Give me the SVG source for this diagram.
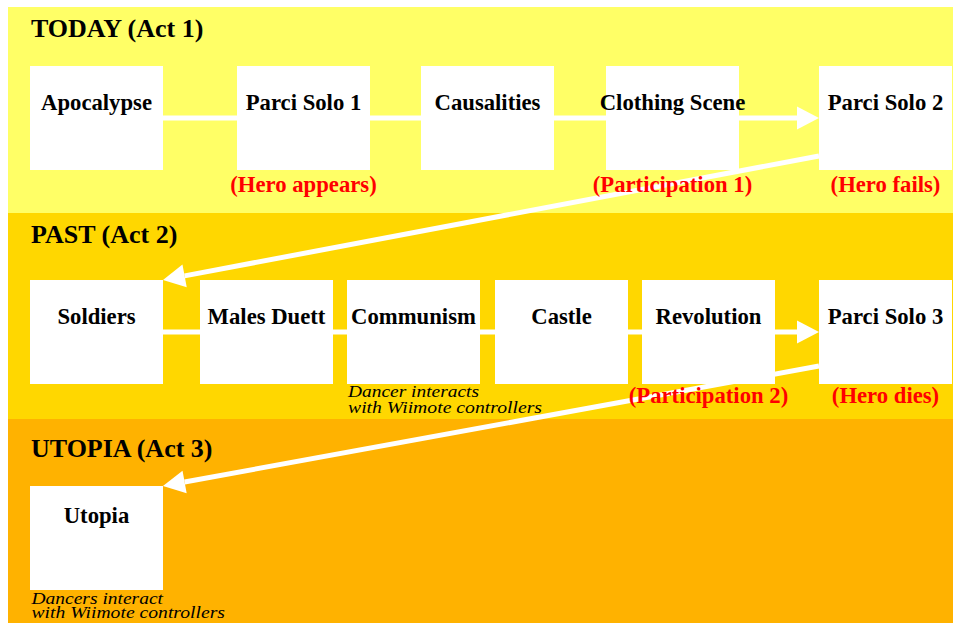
<svg xmlns="http://www.w3.org/2000/svg" width="953" height="623" viewBox="0 0 953 623">
  <style>
    .band-title { font-family: "Liberation Serif", "Times New Roman", serif; font-weight: bold; font-size: 26px; fill: #000; }
    .box { fill: #fff; }
    .box-label { font-family: "Liberation Serif", "Times New Roman", serif; font-weight: bold; font-size: 22.7px; fill: #000; text-anchor: middle; }
    .event { font-family: "Liberation Serif", "Times New Roman", serif; font-weight: bold; font-size: 22.7px; fill: #ff0000; text-anchor: middle; }
    .note { font-family: "Liberation Serif", "Times New Roman", serif; font-style: italic; font-size: 17px; fill: #000; }
    .link { stroke: #fff; stroke-width: 5; fill: none; }
    .flow { stroke: #fff; stroke-width: 5; fill: none; marker-end: url(#head); }
  </style>
  <defs>
    <marker id="head" markerUnits="userSpaceOnUse" markerWidth="22" markerHeight="23" refX="0" refY="11.5" orient="auto" overflow="visible">
      <path d="M0,0 L22,11.5 L0,23 Z" fill="#fff"/>
    </marker>
  </defs>

  <!-- act bands -->
  <g id="bands">
    <rect x="8" y="7" width="945" height="206" fill="#ffff66"/>
    <rect x="8" y="213" width="945" height="206" fill="#ffd700"/>
    <rect x="8" y="419" width="945" height="204" fill="#ffb200"/>
    <text class="band-title" x="31" y="37">TODAY (Act 1)</text>
    <text class="band-title" x="31" y="243">PAST (Act 2)</text>
    <text class="band-title" x="31" y="457">UTOPIA (Act 3)</text>
  </g>

  <!-- connectors -->
  <g id="connectors">
    <line class="link" x1="160" y1="118" x2="240" y2="118"/>
    <line class="link" x1="367" y1="118" x2="424" y2="118"/>
    <line class="link" x1="551" y1="118" x2="609" y2="118"/>
    <line class="flow" x1="736" y1="118" x2="797" y2="118"/>
    <line class="flow" x1="819" y1="156" x2="184.6" y2="275.9"/>
    <line class="link" x1="160" y1="332" x2="203" y2="332"/>
    <line class="link" x1="330" y1="332" x2="350" y2="332"/>
    <line class="link" x1="477" y1="332" x2="498" y2="332"/>
    <line class="link" x1="625" y1="332" x2="645" y2="332"/>
    <line class="flow" x1="772" y1="332" x2="797" y2="332"/>
    <line class="flow" x1="819" y1="366" x2="184.6" y2="482"/>
  </g>

  <!-- Act 1 -->
  <g id="apocalypse">
    <rect class="box" x="30" y="66" width="133" height="104"/>
    <text class="box-label" x="96.5" y="110">Apocalypse</text>
  </g>
  <g id="parci-solo-1">
    <rect class="box" x="237" y="66" width="133" height="104"/>
    <text class="box-label" x="303.5" y="110">Parci Solo 1</text>
    <text class="event" x="303.5" y="191.5">(Hero appears)</text>
  </g>
  <g id="causalities">
    <rect class="box" x="421" y="66" width="133" height="104"/>
    <text class="box-label" x="487.5" y="110">Causalities</text>
  </g>
  <g id="clothing-scene">
    <rect class="box" x="606" y="66" width="133" height="104"/>
    <text class="box-label" x="672.5" y="110">Clothing Scene</text>
    <text class="event" x="672.5" y="191.5">(Participation 1)</text>
  </g>
  <g id="parci-solo-2">
    <rect class="box" x="819" y="66" width="133" height="104"/>
    <text class="box-label" x="885.5" y="110">Parci Solo 2</text>
    <text class="event" x="885.5" y="191.5">(Hero fails)</text>
  </g>

  <!-- Act 2 -->
  <g id="soldiers">
    <rect class="box" x="30" y="280" width="133" height="104"/>
    <text class="box-label" x="96.5" y="324">Soldiers</text>
  </g>
  <g id="males-duett">
    <rect class="box" x="200" y="280" width="133" height="104"/>
    <text class="box-label" x="266.5" y="324">Males Duett</text>
  </g>
  <g id="communism">
    <rect class="box" x="347" y="280" width="133" height="104"/>
    <text class="box-label" x="413.5" y="324">Communism</text>
    <text class="note" x="348" y="397" textLength="131" lengthAdjust="spacingAndGlyphs">Dancer interacts</text>
    <text class="note" x="348" y="412.5" textLength="194" lengthAdjust="spacingAndGlyphs">with Wiimote controllers</text>
  </g>
  <g id="castle">
    <rect class="box" x="495" y="280" width="133" height="104"/>
    <text class="box-label" x="561.5" y="324">Castle</text>
  </g>
  <g id="revolution">
    <rect class="box" x="642" y="280" width="133" height="104"/>
    <text class="box-label" x="708.5" y="324">Revolution</text>
    <text class="event" x="708.5" y="403">(Participation 2)</text>
  </g>
  <g id="parci-solo-3">
    <rect class="box" x="819" y="280" width="133" height="104"/>
    <text class="box-label" x="885.5" y="324">Parci Solo 3</text>
    <text class="event" x="885.5" y="403">(Hero dies)</text>
  </g>

  <!-- Act 3 -->
  <g id="utopia">
    <rect class="box" x="30" y="486" width="133" height="104"/>
    <text class="box-label" x="96.5" y="523">Utopia</text>
    <text class="note" x="31.5" y="604.3" textLength="131.5" lengthAdjust="spacingAndGlyphs">Dancers interact</text>
    <text class="note" x="31.5" y="617.7" textLength="193.5" lengthAdjust="spacingAndGlyphs">with Wiimote controllers</text>
  </g>
</svg>
